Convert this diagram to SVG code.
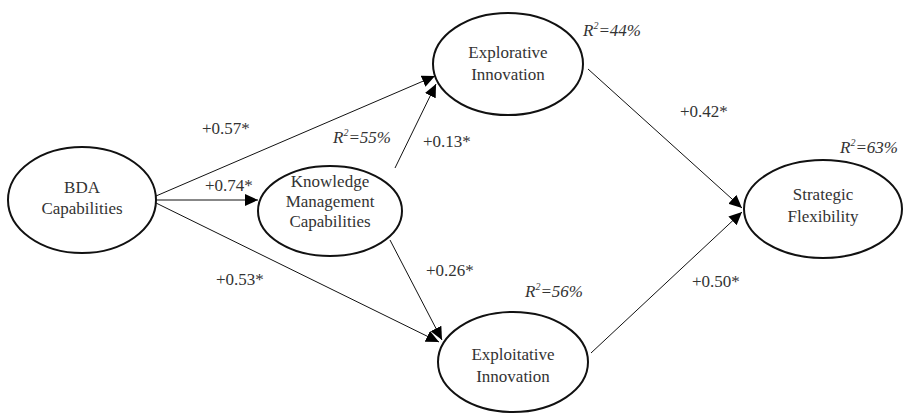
<svg xmlns="http://www.w3.org/2000/svg" width="907" height="415" viewBox="0 0 907 415">
<style>
.node ellipse{fill:#fff;stroke:#111;stroke-width:2}
.node text,.lbl{font-family:"Liberation Serif","Times New Roman",serif;font-size:17px;fill:#333}
.node text{text-anchor:middle}
.node text.r2{font-style:italic;text-anchor:start}
.edge{stroke:#111;stroke-width:1;fill:none;marker-end:url(#ah)}
</style>
<defs>
<marker id="ah" markerUnits="userSpaceOnUse" markerWidth="14" markerHeight="12" refX="13" refY="6" orient="auto">
<path d="M0,0 L13,6 L0,12 z" fill="#000"/>
</marker>
</defs>
<rect width="907" height="415" fill="#fff"/>
<g id="connectors">
<line class="edge" x1="156" y1="196" x2="435" y2="76"/>
<line class="edge" x1="156" y1="200" x2="258" y2="200"/>
<line class="edge" x1="156" y1="203" x2="439" y2="342"/>
<line class="edge" x1="395" y1="168" x2="436" y2="84"/>
<line class="edge" x1="390" y1="240" x2="442" y2="340"/>
<line class="edge" x1="588" y1="69" x2="742" y2="208"/>
<line class="edge" x1="591" y1="353" x2="742" y2="212"/>
</g>
<g id="labels">
<text class="lbl" x="202" y="134">+0.57*</text>
<text class="lbl" x="205" y="191">+0.74*</text>
<text class="lbl" x="216" y="285">+0.53*</text>
<text class="lbl" x="423" y="147">+0.13*</text>
<text class="lbl" x="426" y="276">+0.26*</text>
<text class="lbl" x="680" y="117">+0.42*</text>
<text class="lbl" x="692" y="287">+0.50*</text>
</g>
<g id="bda" class="node">
<ellipse cx="82" cy="200" rx="74" ry="53"/>
<text x="82" y="193">BDA</text>
<text x="82" y="214">Capabilities</text>
</g>
<g id="kmc" class="node">
<ellipse cx="330" cy="211" rx="72" ry="45"/>
<text x="330" y="187">Knowledge</text>
<text x="330" y="207">Management</text>
<text x="330" y="227">Capabilities</text>
<text class="r2" x="333" y="143">R<tspan dy="-7" font-size="10">2</tspan><tspan dy="7">=55%</tspan></text>
</g>
<g id="explorative" class="node">
<ellipse cx="508" cy="64" rx="75" ry="51"/>
<text x="508" y="58">Explorative</text>
<text x="508" y="80">Innovation</text>
<text class="r2" x="583" y="36">R<tspan dy="-7" font-size="10">2</tspan><tspan dy="7">=44%</tspan></text>
</g>
<g id="exploitative" class="node">
<ellipse cx="513" cy="362" rx="75" ry="50"/>
<text x="513" y="360">Exploitative</text>
<text x="513" y="382">Innovation</text>
<text class="r2" x="525" y="297">R<tspan dy="-7" font-size="10">2</tspan><tspan dy="7">=56%</tspan></text>
</g>
<g id="strategic" class="node">
<ellipse cx="823" cy="209" rx="79" ry="49"/>
<text x="823" y="200">Strategic</text>
<text x="823" y="222">Flexibility</text>
<text class="r2" x="840" y="153">R<tspan dy="-7" font-size="10">2</tspan><tspan dy="7">=63%</tspan></text>
</g>
</svg>
